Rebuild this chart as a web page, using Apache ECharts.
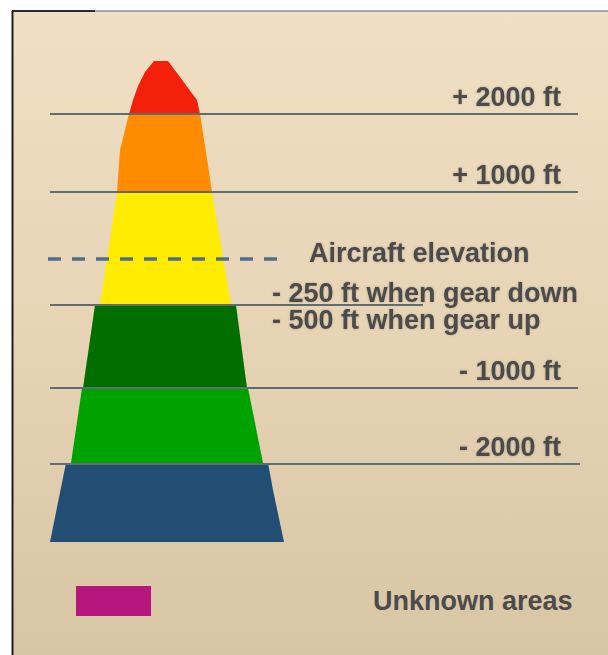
<!DOCTYPE html>
<html>
<head>
<meta charset="utf-8">
<title>Terrain awareness colour bands</title>
<script src="https://cdn.jsdelivr.net/npm/echarts@6/dist/echarts.min.js"></script>
<style>
  html, body { margin: 0; padding: 0; background: #fff; }
  #chart { width: 608px; height: 655px; }
</style>
</head>
<body>
<div id="chart"></div>
<script>
// band outlines (x, y in drawing units, y grows downward)
const redBand = [[154, 61], [168, 61], [197, 100], [200, 114], [129, 114], [133, 100], [138, 86], [145, 72]]
const orangeBand = [[129, 114], [200, 114], [208, 165], [212, 192], [117, 192], [120, 150]]
const yellowBand = [[117, 192], [212, 192], [231, 305], [100, 305]]
const darkGreenBand = [[95, 305], [236, 305], [247, 388], [83, 388]]
const greenBand = [[82, 388], [248, 388], [263, 463], [71, 463]]
const blueBand = [[66, 463], [268, 463], [273, 490], [284, 542], [50, 542]]

// threshold lines
const levelNames = ['+ 2000 ft', '+ 1000 ft', '- 1000 ft', '- 2000 ft']
const levelY = [114, 192, 388, 464]
const levelEnd = [578, 578, 578, 580]

const elevationName = 'Aircraft elevation'
const elevationY = 259
const elevationEnd = 288

const gearNames = ['- 250 ft when gear down', '- 500 ft when gear up']
const gearY = 305
const gearEnd = 423

const unknownName = 'Unknown areas'

const bands = [redBand, orangeBand, yellowBand, darkGreenBand, greenBand, blueBand]
const bandColors = ['#f5200a', '#ff8c00', '#ffec00', '#006f00', '#00a200', '#224e73']
const lineStart = 50
const textColor = '#4b4b4b'
const font = { fontFamily: '"Liberation Sans", Arial, sans-serif', fontWeight: 'bold', fontSize: 27 }

const chart = echarts.init(document.getElementById('chart'), null, { renderer: 'svg' })

const lines = levelY.map((y, i) => ({ y, end: levelEnd[i], dashed: false }))
lines.push({ y: gearY, end: gearEnd, dashed: false })
lines.push({ y: elevationY, end: elevationEnd, dashed: true })

const labels = levelNames.map((t, i) => ({ text: t, x: 561, y: levelY[i] - 17, align: 'right' }))
labels.push({ text: elevationName, x: 309, y: elevationY - 6, align: 'left' })
labels.push({ text: gearNames[0], x: 272, y: gearY - 12, align: 'left' })
labels.push({ text: gearNames[1], x: 272, y: gearY + 15, align: 'left' })

const option = {
  animation: false,
  backgroundColor: '#fff',
  graphic: [
    {
      type: 'rect',
      z: -10,
      shape: { x: 12, y: 11, width: 596, height: 644 },
      style: {
        fill: new echarts.graphic.LinearGradient(0, 0, 0, 1, [
          { offset: 0, color: '#f1dfc3' },
          { offset: 0.5, color: '#e7d4b5' },
          { offset: 1, color: '#d8c5a4' }
        ])
      }
    },
    { type: 'line', z: -9, shape: { x1: 12, y1: 11, x2: 608, y2: 11 }, style: { stroke: '#8e8c98', lineWidth: 1.5 } },
    { type: 'line', z: -9, shape: { x1: 12, y1: 11, x2: 95, y2: 11 }, style: { stroke: '#2a2a2a', lineWidth: 2 } },
    { type: 'line', z: -9, shape: { x1: 12.5, y1: 11, x2: 12.5, y2: 655 }, style: { stroke: '#1e1e1e', lineWidth: 2 } }
  ],
  grid: { left: 0, right: 0, top: 0, bottom: 0 },
  xAxis: { type: 'value', min: 0, max: 608, show: false },
  yAxis: { type: 'value', min: 0, max: 655, inverse: true, show: false },
  legend: {
    data: [unknownName],
    left: 76,
    top: 586,
    padding: 0,
    icon: 'rect',
    itemWidth: 75,
    itemHeight: 30,
    selectedMode: false,
    textStyle: { ...font, color: textColor, padding: [0, 0, 0, 217] }
  },
  series: [
    {
      name: 'bands',
      type: 'custom',
      silent: true,
      data: bands.map((b, i) => [i]),
      renderItem: (params, api) => {
        const i = params.dataIndex
        return {
          type: 'polygon',
          shape: { points: bands[i].map(p => api.coord(p)) },
          style: { fill: bandColors[i] }
        }
      }
    },
    {
      name: 'lines',
      type: 'custom',
      silent: true,
      data: lines.map((l, i) => [i]),
      renderItem: (params, api) => {
        const l = lines[params.dataIndex]
        const a = api.coord([l.dashed ? 48 : lineStart, l.y])
        const b = api.coord([l.end, l.y])
        return {
          type: 'line',
          shape: { x1: a[0], y1: a[1], x2: b[0], y2: b[1] },
          style: l.dashed
            ? { stroke: '#4d6d88', lineWidth: 3.5, lineDash: [13, 11] }
            : { stroke: '#5f6c74', lineWidth: 2 }
        }
      }
    },
    {
      name: 'labels',
      type: 'custom',
      silent: true,
      data: labels.map((l, i) => [i]),
      renderItem: (params, api) => {
        const l = labels[params.dataIndex]
        const p = api.coord([l.x, l.y])
        return {
          type: 'text',
          x: p[0],
          y: p[1],
          style: {
            text: l.text,
            fill: textColor,
            ...font,
            align: l.align,
            verticalAlign: 'middle',
            textShadowColor: 'rgba(0,0,0,0.25)',
            textShadowBlur: 2
          }
        }
      }
    },
    {
      name: unknownName,
      type: 'custom',
      itemStyle: { color: '#b5177f' },
      data: [],
      renderItem: () => null
    }
  ]
}

chart.setOption(option)
</script>
</body>
</html>
